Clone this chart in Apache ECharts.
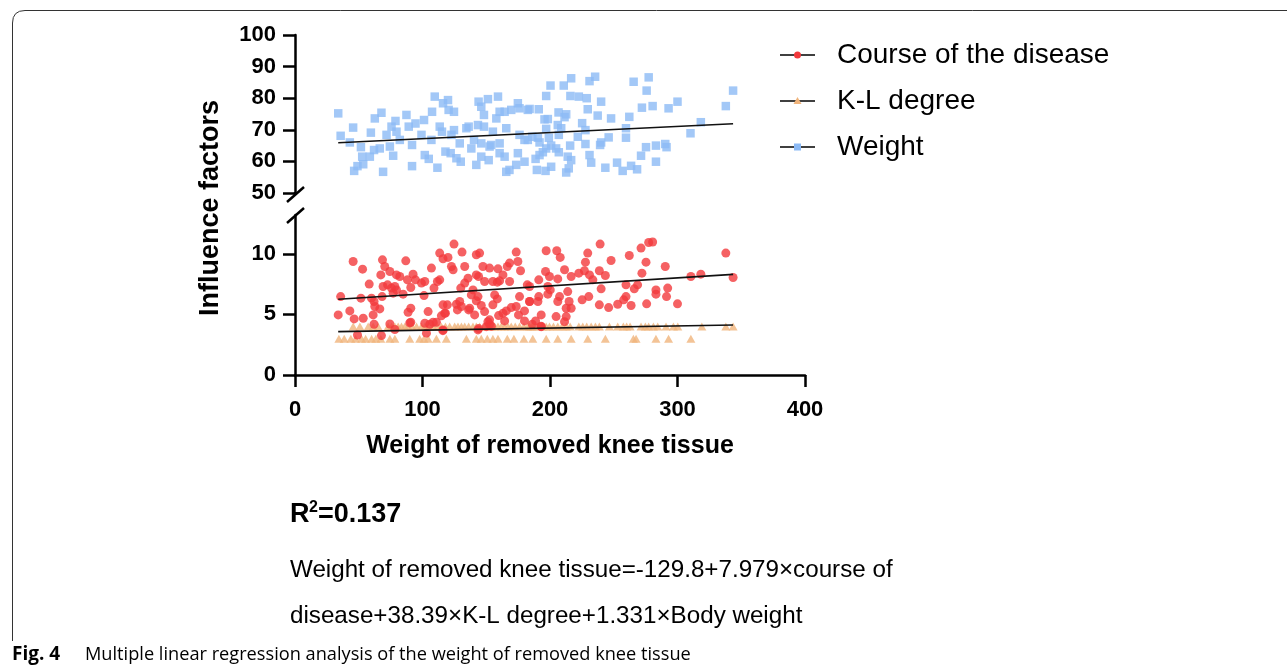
<!DOCTYPE html>
<html>
<head>
<meta charset="utf-8">
<script src="https://cdn.jsdelivr.net/npm/echarts@6/dist/echarts.min.js"></script>
<style>
html,body{margin:0;padding:0;background:#fff;}
#chart{width:1287px;height:670px;}
</style>
</head>
<body>
<div id="chart"></div>
<script>
// ---------------- DATA ----------------
const xTicks = [0, 100, 200, 300, 400];
const upperTicks = [50, 60, 70, 80, 90, 100];
const lowerTicks = [0, 5, 10];

const weightPoints = [
[33.9,75.2],[35.8,68.1],[45.6,70.7],[43,66],[51.7,64.5],[52.7,61.5],[49,58.5],[46.4,57],[53.5,59.1],[58.7,61.5],[62,63.6],[59.5,69.1],[62.6,73.6],[67.8,75.4],[66.5,64.1],[69.1,56.7],[71.8,68.4],[74.4,64.7],[77,61.8],[75.7,71],[78.8,72.8],[79.6,69.4],[82.2,66.8],[87.4,74.7],[89.2,71],[91.8,65.2],[91.8,58.5],[94.5,72],[101.2,73.1],[99.2,68.4],[101.8,62],[104.9,60.8],[107.5,75.7],[107,66.8],[109.6,80.5],[111.7,58],[113.5,71],[115.3,69.4],[116.1,78.4],[120,79.4],[120.5,76.3],[124.7,75.7],[118,63.1],[122.1,62.6],[124.7,69.9],[122.7,68.4],[129.2,65.7],[130,59.9],[126.6,61],[134.4,70.5],[136.2,71],[138.3,64.1],[140.4,66.8],[142.2,58.9],[144,78.9],[146.1,77.3],[148.2,74.7],[151.3,79.7],[143.5,71.5],[148.2,71],[146.1,65.7],[152.6,64.7],[151.9,60.4],[146.1,61.5],[155.2,69.4],[153.9,65.2],[157.9,73.6],[159.2,80.5],[160.5,75.7],[164.4,75.7],[160.5,65.7],[160.5,62.6],[164.4,61.5],[165.7,70.5],[165.7,56.7],[168.2,57.3],[169.6,76.3],[173.5,58.9],[174.8,78.4],[176.1,76.8],[176.1,68.4],[174.8,62.6],[180,59.9],[182.6,76.3],[180,66.8],[182.6,66.8],
[200.4,84],[216.6,86.3],[210.8,84],[197,80.7],[216,80.7],[222.6,80.5],[228.8,80],[231,85.4],[235.4,86.8],[240.1,78.9],[229.6,76.5],[237.4,74.5],[247.9,73.6],[262.2,74.1],[265.6,85.2],[277.4,86.6],[275.8,82.4],[272.1,77],[280.5,77.5],[293,76.8],[300,78.9],[337.9,77.5],[343.6,82.4],[318.3,72.4],[310.2,68.9],[259.6,70.5],[259.6,67.5],[184,76.6],[191.2,76.5],[195.7,73.3],[198.3,73.4],[206.7,75.5],[212.7,74.9],[211.4,74],[197,70.3],[206.1,71.5],[208.8,70.5],[206.9,68.4],[199.1,67.5],[190.5,67.5],[186.1,67.8],[191.8,66],[197,64.1],[200.9,65],[204.8,64.1],[206.9,62.9],[194.4,62.9],[191.8,62],[188.7,60.8],[189.7,57.3],[196.5,57],[200.9,58.3],[212.7,56.5],[214.7,57.8],[213.9,61.5],[216.6,60.4],[215.8,65],[221.8,67.8],[225.2,72.1],[227.8,69.9],[227.8,65.5],[231,62],[232.3,59.6],[239.3,65.2],[240.1,66],[246,67.6],[243.4,58],[252.6,59.6],[257,57],[263.6,58.6],[268.3,57.5],[271.4,61.8],[275.3,64.5],[283.1,65],[283.1,59.9],[290.4,65.5],[291.4,64.5]
];

const coursePoints = [
[33.9,4.96],[35.8,6.47],[45.6,9.36],[43,5.29],[46.4,4.63],[49,3.3],[53,8.73],[51.7,6.34],[53.5,4.68],[58.2,7.5],[60,6.34],[62,6.06],[62.6,5.65],[61.3,4.96],[66.5,5.45],[62,4.19],[67.8,3.25],[68.6,9.5],[70.4,8.95],[67.3,8.26],[69.1,7.3],[68.3,6.47],[74.4,8.54],[72.6,7.44],[75.7,7.17],[77,6.75],[79.6,8.26],[78.3,7.3],[79.6,7.02],[84.8,6.67],[86.9,9.42],[82.2,8.13],[88.2,7.85],[90.8,7.22],[92.6,8.32],[94.5,7.85],[99.2,7.58],[101.2,6.55],[90.8,5.51],[88.7,5.18],[90.8,4.35],[101.8,7.71],[107,8.82],[109,7.17],[111.7,7.71],[113.5,7.85],[113.5,10.06],[116.1,9.59],[120,9.7],[122.7,8.95],[124,8.68],[124.7,10.8],[131,10.14],[133.1,8.95],[130,7.17],[135.7,7.99],[133.1,7.58],[129.2,6.06],[130.5,5.65],[127.4,5.37],[137,5.51],[119.5,5.79],[114.8,4.88],[117.4,5.1],[116.1,3.72],[104.4,5.23],[101.8,4.27],[105.7,4.19],[108.3,4.35],[110.9,4.35],[103.1,3.45],[142.2,9.92],[144.8,10.06],[142.2,8.26],[144,8.13],[147.4,8.95],[148.7,7.71],[139.6,7.02],[138.3,6.61],[143.5,6.47],[142.2,6.12],[146.1,5.73],[148.7,5.23],[152.6,8.82],[159.2,8.76],[155.2,7.71],[158.7,7.66],[156.6,6.61],[158.7,6.28],[155.2,5.79],[160.5,7.77],[163.1,8.26],[166.5,8.95],[168.3,9.23],[174.8,9.36],[176.9,8.6],[168.3,7.71],[176.1,6.47],[182.2,7.44],[173.5,5.65],[169.6,5.56],[165.7,5.29],[163.1,5.1],[159.7,4.9],[164.4,4.46],[151.3,4.4],[152.6,4.19],[150,3.99],[180,4.46],[184,6.06],[175.3,4.96],[180,5.29],[173.5,10.14],[140.9,4.96],[136.2,5.37],[116.1,5.79],[118,5.1],[126.6,5.84],[143.5,3.72],[152.6,4.55],
[74.4,4.21],[78.3,3.75],[90,4.3],[154,4.02],[193,4.02],[116,3.66],[144,3.83],
[197,10.25],[205.3,10.25],[208,9.7],[191.2,7.85],[196.5,8.54],[199.6,8.13],[198.3,7.3],[200.2,7.02],[198.3,6.67],[206.1,7.93],[211.4,8.68],[216.6,8.13],[222.6,8.4],[227,8.6],[229.6,10.06],[227.8,9.31],[231,8.26],[233.6,7.85],[239.3,10.8],[238.7,8.6],[243.4,8.21],[240.1,7.11],[247.9,9.45],[262.2,9.86],[271.4,10.47],[277.4,10.93],[280.5,10.97],[275.3,9.31],[272.1,8.4],[290.4,8.95],[259.6,7.44],[268.7,7.44],[266.1,7.11],[283.1,7.02],[283.1,6.67],[292.3,7.17],[291.4,6.47],[300,5.87],[310.5,8.13],[318.3,8.32],[337.9,10.06],[343.6,8.04],[259.6,6.47],[257.8,6.2],[253.1,5.84],[263.6,5.73],[275.8,5.87],[246,5.56],[238.7,5.79],[225.2,6.2],[230.4,6.47],[215,6.06],[213.9,6.88],[207.5,6.47],[206.1,6.06],[212.7,5.51],[216.6,5.51],[191.2,6.47],[190.5,6.06],[184,6.06],[193.1,4.96],[188.7,4.46],[186.1,4.19],[193.1,3.99],[204.8,4.82],[212.7,4.82],[211.4,4.4],[184,7.3]
];

// K-L degree (grades 3 and 4), x positions of the patients
const klGrade3X = [34.4,38.6,43.8,47.5,52.2,55.4,60.1,63.4,67.3,74.4,78.3,90,97.8,101.2,104.4,110.9,118.7,134.4,142.2,146.1,150.8,155.2,159.2,166.5,171.7,179.5,186.5,197,206.1,216.6,229.6,243.4,265.4,267.5,283.1,293,310.5];
const klGrade4X = [45.6,50.9,57.4,61.3,65.2,73,75.7,78.3,80.9,83.5,86.1,88.7,91.9,95.3,99.2,101.8,104.9,108.3,111.7,114.8,118,121.3,125.2,127.8,130.5,133.1,136.2,139.6,142.2,144.8,148.7,151.3,153.9,156.6,159.2,161.8,164.4,167,169.6,172.7,176.1,179.5,182.6,185.8,184,187.1,190.5,193.9,197,199.6,202.7,206.1,209.5,212.7,215.8,222.6,225.7,228.8,232.3,235.6,238.7,246.6,253.1,257.5,260.1,262.8,271.4,274.8,277.4,281.1,284.5,291,296.8,300.2,319.1,337.9,343.6];

// regression lines (end points)
const weightFit = [[33.9,65.9],[343.6,71.9]];
const courseFit = [[33.9,6.25],[343.6,8.3]];
const klFit = [[33.9,3.58],[343.6,4.12]];

const legendNames = ['Course of the disease', 'K-L degree', 'Weight'];
const xAxisTitle = 'Weight of removed knee tissue';
const yAxisTitle = 'Influence factors';

// ---------------- CHART ----------------
const klPoints = klGrade3X.map(x => [x, 3]).concat(klGrade4X.map(x => [x, 4]));

const C_RED = '#F2393C', C_ORANGE = '#F0B47C', C_BLUE = '#8CBAF5';
const FONT = 'Liberation Sans, Arial, sans-serif';
const axisCommon = {
  axisLine: { show: true, lineStyle: { color: '#000', width: 2.5 } },
  axisTick: { show: true, length: 12, lineStyle: { color: '#000', width: 2.5 } },
  axisLabel: { color: '#000', fontSize: 22, fontWeight: 'bold', fontFamily: FONT },
  splitLine: { show: false }
};

const chart = echarts.init(document.getElementById('chart'));
const legendY = [55, 101, 147];
const graphics = [
  // frame
  { type: 'line', shape: { x1: 12.5, y1: 23, x2: 12.5, y2: 641 }, style: { stroke: '#333', lineWidth: 1 } },
  { type: 'bezierCurve', shape: { x1: 12.5, y1: 23, cpx1: 12.5, cpy1: 10.5, x2: 25, y2: 10.5 }, style: { stroke: '#333', lineWidth: 1, fill: null } },
  { type: 'line', shape: { x1: 25, y1: 10.5, x2: 1300, y2: 10.5 }, style: { stroke: '#333', lineWidth: 1 } },
  // axis break marks
  { type: 'line', shape: { x1: 287, y1: 202, x2: 304, y2: 187 }, style: { stroke: '#000', lineWidth: 2.5 } },
  { type: 'line', shape: { x1: 287, y1: 223, x2: 304, y2: 208 }, style: { stroke: '#000', lineWidth: 2.5 } },
  { type: 'line', shape: { x1: 295, y1: 192, x2: 295, y2: 195 }, style: { stroke: '#000', lineWidth: 2.5 } },
  // y axis title
  { type: 'text', x: 211, y: 208, rotation: Math.PI / 2,
    style: { text: yAxisTitle, fontSize: 27, fontWeight: 'bold', fontFamily: FONT, fill: '#000', align: 'center', verticalAlign: 'middle' } },
  // legend
  { type: 'line', shape: { x1: 780, y1: legendY[0], x2: 815, y2: legendY[0] }, style: { stroke: '#000', lineWidth: 1.5 } },
  { type: 'circle', shape: { cx: 797.5, cy: legendY[0], r: 3.5 }, style: { fill: C_RED } },
  { type: 'line', shape: { x1: 780, y1: legendY[1], x2: 815, y2: legendY[1] }, style: { stroke: '#000', lineWidth: 1.5 } },
  { type: 'polygon', shape: { points: [[797.5, legendY[1] - 4], [793.5, legendY[1] + 3], [801.5, legendY[1] + 3]] }, style: { fill: C_ORANGE } },
  { type: 'line', shape: { x1: 780, y1: legendY[2], x2: 815, y2: legendY[2] }, style: { stroke: '#000', lineWidth: 1.5 } },
  { type: 'rect', shape: { x: 794, y: legendY[2] - 3.5, width: 7, height: 7 }, style: { fill: C_BLUE } },
  // R^2
  { type: 'text', x: 290, y: 528, style: { text: 'R', fontSize: 27, fontWeight: 'bold', fontFamily: FONT, fill: '#000', verticalAlign: 'bottom' } },
  { type: 'text', x: 309, y: 516, style: { text: '2', fontSize: 16, fontWeight: 'bold', fontFamily: FONT, fill: '#000', verticalAlign: 'bottom' } },
  { type: 'text', x: 318, y: 528, style: { text: '=0.137', fontSize: 27, fontWeight: 'bold', fontFamily: FONT, fill: '#000', verticalAlign: 'bottom' } },
  // equation
  { type: 'text', x: 290, y: 570, style: { text: 'Weight of removed knee tissue=-129.8+7.979×course of', fontSize: 24.2, fontFamily: FONT, fill: '#000', verticalAlign: 'middle' } },
  { type: 'text', x: 290, y: 616, style: { text: 'disease+38.39×K-L degree+1.331×Body weight', fontSize: 24.2, fontFamily: FONT, fill: '#000', verticalAlign: 'middle' } },
  // caption
  { type: 'text', x: 12, y: 655, style: { text: 'Fig. 4', fontSize: 19, fontWeight: 'bold', fontFamily: 'Open Sans, sans-serif', fill: '#000', verticalAlign: 'middle' } },
  { type: 'text', x: 85, y: 655, style: { text: 'Multiple linear regression analysis of the weight of removed knee tissue', fontSize: 18.2, fontFamily: 'Open Sans, sans-serif', fill: '#000', verticalAlign: 'middle' } }
];
legendNames.forEach((n, i) => {
  graphics.push({ type: 'text', x: 837, y: legendY[i], style: { text: n, fontSize: 28, fontFamily: FONT, fill: '#000', verticalAlign: 'middle' } });
});

const option = {
  animation: false,
  backgroundColor: '#fff',
  textStyle: { fontFamily: FONT },
  grid: [
    { left: 295, top: 35, width: 510, height: 158 },
    { left: 295, top: 215, width: 510, height: 160 }
  ],
  xAxis: [
    { type: 'value', gridIndex: 0, min: 0, max: 400, show: false },
    Object.assign({}, axisCommon, {
      type: 'value', gridIndex: 1, min: xTicks[0], max: xTicks[xTicks.length - 1], interval: 100,
      axisLabel: Object.assign({}, axisCommon.axisLabel, { margin: 24 }),
      name: xAxisTitle, nameLocation: 'middle', nameGap: 59,
      nameTextStyle: { fontSize: 25, fontWeight: 'bold', color: '#000', fontFamily: FONT }
    })
  ],
  yAxis: [
    Object.assign({}, axisCommon, {
      type: 'value', gridIndex: 0, min: upperTicks[0], max: upperTicks[upperTicks.length - 1], interval: 10,
      axisLabel: Object.assign({}, axisCommon.axisLabel, { margin: 19 })
    }),
    Object.assign({}, axisCommon, {
      type: 'value', gridIndex: 1, min: 0, max: 13.2, interval: 5,
      axisLabel: Object.assign({}, axisCommon.axisLabel, { margin: 19, customValues: lowerTicks }),
      axisTick: Object.assign({}, axisCommon.axisTick, { customValues: lowerTicks })
    })
  ],
  series: [
    { name: 'Weight', type: 'scatter', xAxisIndex: 0, yAxisIndex: 0, data: weightPoints,
      symbol: 'rect', symbolSize: 8.5, itemStyle: { color: C_BLUE } },
    { type: 'line', xAxisIndex: 0, yAxisIndex: 0, data: weightFit, symbol: 'none',
      lineStyle: { color: '#111', width: 1.6 }, z: 3 },
    { type: 'line', xAxisIndex: 1, yAxisIndex: 1, data: klFit, symbol: 'none',
      lineStyle: { color: '#111', width: 1.6 } },
    { name: 'K-L degree', type: 'scatter', xAxisIndex: 1, yAxisIndex: 1, data: klPoints,
      symbol: 'triangle', symbolSize: [9, 8], itemStyle: { color: C_ORANGE } },
    { name: 'Course of the disease', type: 'scatter', xAxisIndex: 1, yAxisIndex: 1, data: coursePoints,
      symbol: 'circle', symbolSize: 9, itemStyle: { color: C_RED } },
    { type: 'line', xAxisIndex: 1, yAxisIndex: 1, data: courseFit, symbol: 'none',
      lineStyle: { color: '#111', width: 1.6 }, z: 3 }
  ],
  graphic: graphics
};
chart.setOption(option);
</script>
</body>
</html>
